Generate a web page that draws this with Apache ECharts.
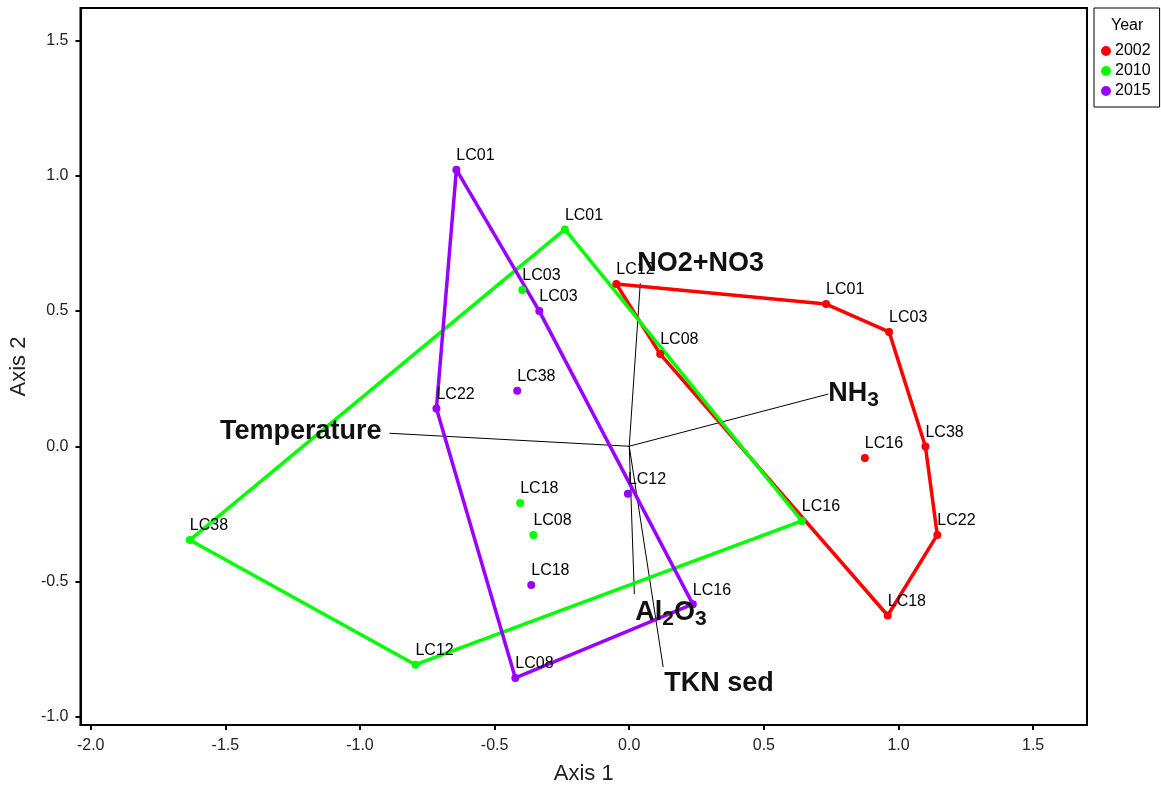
<!DOCTYPE html>
<html>
<head>
<meta charset="utf-8">
<script src="https://cdn.jsdelivr.net/npm/echarts@6/dist/echarts.min.js"></script>
<style>
html,body{margin:0;padding:0;background:#fff;}
#chart{width:1161px;height:790px;}
</style>
</head>
<body>
<div id="chart"></div>
<script>
// ---- Data ----
const years = ['2002', '2010', '2015'];
const yearColors = ['#ff0000', '#00ff00', '#9900ff'];

const sites2002 = ['LC12', 'LC01', 'LC03', 'LC38', 'LC22', 'LC18', 'LC16', 'LC08'];
const x2002 = [-0.048, 0.731, 0.965, 1.100, 1.144, 0.960, 0.875, 0.115];
const y2002 = [0.600, 0.526, 0.423, -0.001, -0.328, -0.626, -0.043, 0.341];
const hull2002 = ['LC12', 'LC01', 'LC03', 'LC38', 'LC22', 'LC18', 'LC08', 'LC12'];

const sites2010 = ['LC01', 'LC03', 'LC38', 'LC12', 'LC16', 'LC18', 'LC08'];
const x2010 = [-0.239, -0.397, -1.632, -0.794, 0.641, -0.405, -0.356];
const y2010 = [0.802, 0.578, -0.347, -0.808, -0.276, -0.210, -0.328];
const hull2010 = ['LC01', 'LC16', 'LC12', 'LC38', 'LC01'];

const sites2015 = ['LC01', 'LC03', 'LC38', 'LC22', 'LC12', 'LC18', 'LC16', 'LC08'];
const x2015 = [-0.642, -0.334, -0.416, -0.716, -0.005, -0.364, 0.236, -0.423];
const y2015 = [1.023, 0.500, 0.205, 0.140, -0.176, -0.513, -0.584, -0.857];
const hull2015 = ['LC01', 'LC03', 'LC16', 'LC08', 'LC22', 'LC01'];

// Environmental vectors (biplot arrows from origin)
const vecNames = ['Temperature', 'NH3', 'NO2+NO3', 'Al2O3', 'TKN sed'];
const vecLabels = ['Temperature', 'NH{s|3}', 'NO2+NO3', 'Al{s|2}O{s|3}', 'TKN sed'];
const vecX = [-0.890, 0.739, 0.041, 0.019, 0.126];
const vecY = [0.048, 0.193, 0.603, -0.547, -0.817];

const xTicks = [-2.0, -1.5, -1.0, -0.5, 0.0, 0.5, 1.0, 1.5];
const yTicks = [-1.0, -0.5, 0.0, 0.5, 1.0, 1.5];

// ---- Styling (not data) ----
const FONT = 'Liberation Sans, Arial, sans-serif';
const vecLabelPlace = [
  { pos: [-8, -2], align: 'right' },
  { pos: [0, -1], align: 'left' },
  { pos: [-3, -20], align: 'left' },
  { pos: [1, 18], align: 'left' },
  { pos: [1, 16], align: 'left' }
];

const groups = [
  { sites: sites2002, xs: x2002, ys: y2002, hull: hull2002 },
  { sites: sites2010, xs: x2010, ys: y2010, hull: hull2010 },
  { sites: sites2015, xs: x2015, ys: y2015, hull: hull2015 }
];

const series = [];

vecNames.forEach(function (n, i) {
  series.push({
    name: 'vec_' + n,
    type: 'line',
    data: [[0, 0], [vecX[i], vecY[i]]],
    symbol: 'none',
    lineStyle: { color: '#000', width: 1 },
    silent: true,
    z: 1,
    animation: false
  });
});
series.push({
  name: 'vecLabels',
  type: 'scatter',
  symbolSize: 0,
  itemStyle: { opacity: 1, color: '#000' },
  silent: true,
  z: 20,
  animation: false,
  data: vecNames.map(function (n, i) {
    return {
      value: [vecX[i], vecY[i]],
      label: {
        show: true,
        formatter: vecLabels[i],
        position: vecLabelPlace[i].pos,
        align: vecLabelPlace[i].align,
        verticalAlign: 'middle',
        fontFamily: FONT,
        fontWeight: 'bold',
        fontSize: 27,
        color: '#111',
        rich: {
          s: { fontFamily: FONT, fontWeight: 'bold', fontSize: 21, color: '#111', padding: [14, 0, 0, 0] }
        }
      }
    };
  })
});

groups.forEach(function (g, k) {
  const hullData = g.hull.map(function (s) {
    const idx = g.sites.indexOf(s);
    return [g.xs[idx], g.ys[idx]];
  });
  series.push({
    name: years[k],
    type: 'line',
    data: hullData,
    symbol: 'none',
    lineStyle: { color: yearColors[k], width: 3.5 },
    itemStyle: { color: yearColors[k] },
    z: 3 + k,
    animation: false
  });
  series.push({
    name: years[k],
    type: 'scatter',
    symbol: 'circle',
    symbolSize: 8,
    itemStyle: { color: yearColors[k], opacity: 1 },
    z: 10 + k,
    animation: false,
    data: g.sites.map(function (s, i) {
      return { name: s, value: [g.xs[i], g.ys[i]] };
    }),
    label: {
      show: true,
      formatter: '{b}',
      position: [4, -10],
      align: 'left',
      verticalAlign: 'middle',
      fontFamily: FONT,
      fontSize: 16,
      color: '#000'
    }
  });
});

const chart = echarts.init(document.getElementById('chart'), null, { renderer: 'canvas' });
chart.setOption({
  backgroundColor: '#fff',
  animation: false,
  textStyle: { fontFamily: FONT },
  grid: {
    left: 80, top: 8, right: 74, bottom: 65,
    show: true, borderColor: '#000', borderWidth: 2, backgroundColor: 'transparent'
  },
  legend: {
    data: years.map(function (y, i) { return { name: y, icon: 'circle', itemStyle: { color: yearColors[i] } }; }),
    orient: 'vertical',
    left: 1094,
    top: 8,
    padding: [35, 9, 8, 7],
    itemGap: 4,
    itemWidth: 10,
    itemHeight: 10,
    borderColor: '#000',
    borderWidth: 1,
    selectedMode: false,
    textStyle: { fontFamily: FONT, fontSize: 16, color: '#000', padding: [0, 0, 0, -1] }
  },
  graphic: [{
    type: 'text',
    left: 1111,
    top: 18,
    style: { text: 'Year', fontFamily: FONT, fontSize: 16, fill: '#000' }
  }],
  xAxis: {
    type: 'value',
    min: -2.038,
    max: 1.700,
    name: 'Axis 1',
    nameLocation: 'middle',
    nameGap: 38,
    nameTextStyle: { fontFamily: FONT, fontSize: 22, color: '#222' },
    axisLine: { show: true, onZero: false, lineStyle: { color: '#000', width: 2 } },
    axisTick: { show: true, length: 5, lineStyle: { color: '#000', width: 2 }, customValues: xTicks },
    axisLabel: {
      customValues: xTicks,
      formatter: function (v) { return v.toFixed(1); },
      fontFamily: FONT, fontSize: 16, color: '#222', margin: 13
    },
    splitLine: { show: false }
  },
  yAxis: {
    type: 'value',
    min: -1.031,
    max: 1.621,
    name: 'Axis 2',
    nameLocation: 'middle',
    nameGap: 49,
    nameRotate: 90,
    nameTextStyle: { fontFamily: FONT, fontSize: 22, color: '#222' },
    axisLine: { show: true, onZero: false, lineStyle: { color: '#000', width: 2 } },
    axisTick: { show: true, length: 5, lineStyle: { color: '#000', width: 2 }, customValues: yTicks },
    axisLabel: {
      customValues: yTicks,
      formatter: function (v) { return v.toFixed(1); },
      fontFamily: FONT, fontSize: 16, color: '#222', margin: 12
    },
    splitLine: { show: false }
  },
  series: series
});
</script>
</body>
</html>
